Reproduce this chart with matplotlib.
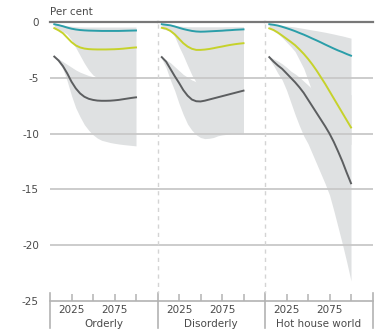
import matplotlib
matplotlib.use("Agg")
import matplotlib.pyplot as plt
from matplotlib.lines import Line2D

years = [2005, 2010, 2015, 2020, 2025, 2030, 2035, 2040, 2045, 2050,
         2055, 2060, 2065, 2070, 2075, 2080, 2085, 2090, 2095, 2100]
panel_names = ["Orderly", "Disorderly", "Hot house world"]
y_ticks = [0, -5, -10, -15, -20, -25]
x_ticks = [2025, 2050, 2075, 2100]
x_ticklabels = ["2025", "", "2075", ""]

# --- Orderly ---
orderly_teal = [-0.2, -0.28, -0.38, -0.5, -0.6, -0.67, -0.72, -0.75, -0.77, -0.78,
                -0.79, -0.8, -0.8, -0.8, -0.8, -0.8, -0.79, -0.78, -0.77, -0.76]
orderly_lime = [-0.55, -0.75, -1.0, -1.4, -1.8, -2.1, -2.28, -2.38, -2.43, -2.45,
                -2.46, -2.46, -2.46, -2.45, -2.44, -2.42, -2.39, -2.35, -2.31, -2.28]
orderly_grey = [-3.1, -3.45, -3.95, -4.6, -5.35, -5.95, -6.4, -6.7, -6.88, -6.98,
                -7.04, -7.06, -7.06, -7.05, -7.02, -6.98, -6.92, -6.86, -6.8, -6.75]
orderly_hi_top = [-0.15, -0.2, -0.27, -0.33, -0.38, -0.42, -0.44, -0.45, -0.45, -0.45,
                  -0.45, -0.45, -0.45, -0.45, -0.45, -0.45, -0.45, -0.45, -0.45, -0.45]
orderly_hi_bot = [-0.6, -0.7, -0.85, -1.1, -1.6, -2.3, -3.0, -3.7, -4.3, -4.75,
                  -5.0, -5.1, -5.1, -5.1, -5.1, -5.1, -5.1, -5.1, -5.1, -5.1]
orderly_lo_top = [-3.1, -3.3, -3.55, -3.8, -4.05, -4.3, -4.5, -4.65, -4.8, -4.9,
                  -5.0, -5.0, -5.0, -5.0, -5.0, -5.0, -5.0, -5.0, -5.0, -5.0]
orderly_lo_bot = [-3.15, -3.6, -4.2, -5.3, -6.6, -7.7, -8.5, -9.2, -9.7, -10.1,
                  -10.4, -10.6, -10.7, -10.8, -10.87, -10.93, -10.98, -11.02, -11.06, -11.1]

# --- Disorderly ---
disorderly_teal = [-0.2, -0.25, -0.3, -0.4, -0.52, -0.63, -0.72, -0.8, -0.85, -0.87,
                   -0.86, -0.84, -0.82, -0.8, -0.78, -0.75, -0.73, -0.7, -0.68, -0.66]
disorderly_lime = [-0.52, -0.6, -0.8, -1.1, -1.5, -1.9, -2.2, -2.4, -2.5, -2.5,
                   -2.47, -2.42, -2.35, -2.27, -2.2, -2.12, -2.05, -1.99, -1.94, -1.9]
disorderly_grey = [-3.15, -3.55, -4.2, -4.85, -5.45, -6.1, -6.6, -6.95, -7.1, -7.12,
                   -7.05, -6.95, -6.85, -6.75, -6.65, -6.55, -6.45, -6.35, -6.25, -6.15]
disorderly_hi_top = [-0.15, -0.2, -0.25, -0.3, -0.35, -0.4, -0.42, -0.43, -0.43, -0.43,
                     -0.43, -0.43, -0.43, -0.43, -0.43, -0.42, -0.42, -0.42, -0.42, -0.42]
disorderly_hi_bot = [-0.6, -0.7, -0.8, -1.3, -2.2, -3.0, -3.9, -4.75, -5.4, -5.8,
                     -5.8, -5.8, -5.8, -5.8, -5.8, -5.8, -5.8, -5.8, -5.8, -5.8]
disorderly_lo_top = [-3.15, -3.4, -3.65, -4.0, -4.35, -4.7, -4.95, -5.2, -5.35, -5.4,
                     -5.4, -5.4, -5.4, -5.4, -5.4, -5.4, -5.4, -5.4, -5.4, -5.4]
disorderly_lo_bot = [-3.3, -4.1, -5.2, -6.15, -7.3, -8.3, -9.15, -9.7, -10.1, -10.35,
                     -10.45, -10.42, -10.35, -10.2, -10.12, -10.07, -10.03, -10.0, -10.0, -10.0]

# --- Hot house world ---
hothouse_teal = [-0.2, -0.25, -0.32, -0.43, -0.55, -0.68, -0.82, -0.98, -1.13, -1.3,
                 -1.48, -1.65, -1.83, -2.02, -2.2, -2.38, -2.55, -2.7, -2.87, -3.02]
hothouse_lime = [-0.57, -0.72, -0.95, -1.22, -1.5, -1.78, -2.08, -2.45, -2.85, -3.3,
                 -3.8, -4.35, -4.95, -5.55, -6.2, -6.85, -7.5, -8.15, -8.8, -9.45]
hothouse_grey = [-3.15, -3.55, -3.9, -4.2, -4.6, -5.0, -5.4, -5.85, -6.35, -6.95,
                 -7.55, -8.15, -8.75, -9.35, -10.0, -10.75, -11.6, -12.5, -13.5, -14.45]
hothouse_hi_top = [-0.15, -0.18, -0.24, -0.3, -0.35, -0.4, -0.45, -0.52, -0.58, -0.65,
                   -0.72, -0.78, -0.85, -0.92, -1.0, -1.08, -1.17, -1.25, -1.35, -1.45]
hothouse_hi_bot = [-0.6, -0.8, -1.05, -1.4, -1.8, -2.2, -2.65, -3.4, -4.15, -5.2,
                   -6.3, -7.0, -7.5, -8.0, -8.5, -9.0, -9.5, -10.0, -10.5, -11.0]
hothouse_lo_top = [-3.1, -3.3, -3.5, -3.75, -4.05, -4.4, -4.65, -4.95, -5.3, -5.65,
                   -6.0, -6.3, -6.5, -6.5, -6.5, -6.5, -6.5, -6.5, -6.5, -6.5]
hothouse_lo_bot = [-3.3, -3.9, -4.6, -5.2, -6.1, -7.2, -8.3, -9.3, -10.2, -10.9,
                   -11.8, -12.7, -13.6, -14.5, -15.5, -16.9, -18.4, -19.9, -21.5, -23.2]

panels = [
    (orderly_teal, orderly_lime, orderly_grey,
     orderly_hi_top, orderly_hi_bot, orderly_lo_top, orderly_lo_bot),
    (disorderly_teal, disorderly_lime, disorderly_grey,
     disorderly_hi_top, disorderly_hi_bot, disorderly_lo_top, disorderly_lo_bot),
    (hothouse_teal, hothouse_lime, hothouse_grey,
     hothouse_hi_top, hothouse_hi_bot, hothouse_lo_top, hothouse_lo_bot),
]

TEAL = "#2a9ea9"
LIME = "#c6d22b"
DARK = "#5c5e60"
BAND = "#dfe1e2"
GRID = "#c8c8c8"
AXIS = "#b3b3b3"
TEXT = "#4a4a4a"

plt.rcParams["font.family"] = ["DejaVu Sans"]
plt.rcParams["font.size"] = 7.5

W, H = 386, 332
fig = plt.figure(figsize=(W / 100, H / 100), dpi=100)

left_px = 50.0
panel_w = 107.5
top_px, bottom_px = 22.0, 301.0

for i, (name, series) in enumerate(zip(panel_names, panels)):
    teal, lime, grey, hi_top, hi_bot, lo_top, lo_bot = series
    x0 = left_px + i * panel_w
    ax = fig.add_axes([x0 / W, 1 - bottom_px / H, panel_w / W, (bottom_px - top_px) / H])
    ax.set_xlim(2000, 2125)
    ax.set_ylim(-25, 0)

    ax.fill_between(years, hi_top, hi_bot, color=BAND, lw=0, zorder=1)
    ax.fill_between(years, lo_top, lo_bot, color=BAND, lw=0, zorder=1)

    for yv in y_ticks[1:-1]:
        ax.axhline(yv, color=GRID, lw=1.3, zorder=1.5)
    ax.axhline(0, color="#787878", lw=1.6, zorder=4, clip_on=False)

    ax.plot(years, teal, color=TEAL, lw=1.4, zorder=3)
    ax.plot(years, lime, color=LIME, lw=1.4, zorder=3)
    ax.plot(years, grey, color=DARK, lw=1.4, zorder=3)

    for s in ["top", "left", "right"]:
        ax.spines[s].set_visible(False)
    ax.spines["bottom"].set_color(AXIS)
    ax.spines["bottom"].set_linewidth(1.2)

    ax.set_xticks(x_ticks)
    ax.set_xticklabels(x_ticklabels)
    ax.tick_params(axis="x", direction="in", length=5, width=1.1, color=AXIS,
                   pad=3, labelcolor=TEXT)
    ax.set_yticks(y_ticks)
    if i == 0:
        ax.set_yticklabels([str(v) for v in y_ticks])
        ax.tick_params(axis="y", length=0, pad=8, labelcolor=TEXT)
    else:
        ax.tick_params(axis="y", length=0, labelleft=False)

    ax.text(0.5, -0.082, name, transform=ax.transAxes, ha="center", va="center",
            color=TEXT)

# panel boundary ticks below the axis and dashed separators
for i in range(4):
    xb = (left_px + i * panel_w) / W
    fig.add_artist(Line2D([xb, xb], [1 - 293 / H, 1 - 328 / H], color=AXIS, lw=1.2,
                          transform=fig.transFigure))
    if i in (1, 2):
        fig.add_artist(Line2D([xb, xb], [1 - 24 / H, 1 - 293 / H], color="#d4d4d4",
                              lw=1.0, dashes=(3, 3), transform=fig.transFigure))

fig.text(left_px / W, 1 - 12 / H, "Per cent", ha="left", va="center", color=TEXT)

fig.savefig("out.png", dpi=100)
